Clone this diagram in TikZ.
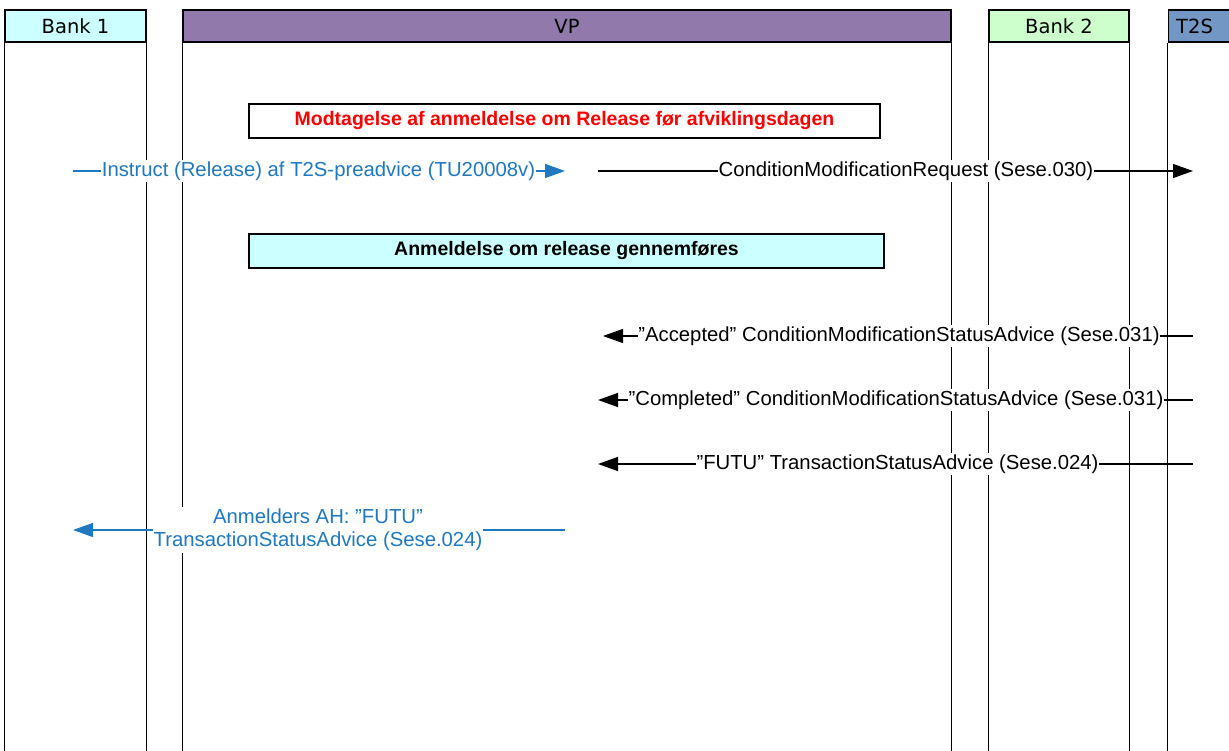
\documentclass[tikz,border=0pt]{standalone}
\usepackage{fontspec}
\setmainfont{Liberation Sans}
\newfontfamily\hdrfont{DejaVu Sans}
\usetikzlibrary{arrows.meta,positioning}
\definecolor{bankone}{RGB}{204,255,255}
\definecolor{banktwo}{RGB}{204,255,204}
\definecolor{vpfill}{RGB}{145,121,171}
\definecolor{tsfill}{RGB}{115,151,196}
\definecolor{msgblue}{RGB}{31,120,192}

\begin{document}
\begin{tikzpicture}[x=1pt,y=-1pt,line width=1.4pt,
	hdr/.style={draw,minimum height=32pt,inner sep=0pt,font=\hdrfont\fontsize{19.5}{22}\selectfont},
	msg/.style={fill=white,inner xsep=0pt,inner ysep=2pt,font=\fontsize{20.3}{23}\selectfont},
	note/.style={draw,minimum height=34pt,inner sep=0pt,font=\bfseries\fontsize{19.5}{22}\selectfont},
	tip/.style={-{Triangle[length=20pt,width=14pt]}}]
	\useasboundingbox (0,0) rectangle (1229,751);
	\clip (0,0) rectangle (1229,751);
	\coordinate (bottom) at (0,760);

	% participants
	\node[hdr,fill=bankone,minimum width=141pt] (bank1) at (75.5,26) {Bank 1};
	\node[hdr,fill=vpfill,minimum width=768pt] (vp) at (567,26) {VP};
	\node[hdr,fill=banktwo,minimum width=140pt] (bank2) at (1059,26) {Bank 2};
	\node[hdr,fill=tsfill,anchor=west,align=left,text width=60pt,inner xsep=8pt] (t2s) at (1167.5,26) {T2S};

	% lifelines
	\draw (bank1.south west) -- (bank1.south west |- bottom);
	\draw (bank1.south east) -- (bank1.south east |- bottom);
	\draw (vp.south west) -- (vp.south west |- bottom);
	\draw (vp.south east) -- (vp.south east |- bottom);
	\draw (bank2.south west) -- (bank2.south west |- bottom);
	\draw (bank2.south east) -- (bank2.south east |- bottom);
	\draw (t2s.south west) -- (t2s.south west |- bottom);

	% notes
	\node[note,fill=white,text=red,minimum width=631pt] (recv) at (564.5,121) {Modtagelse af anmeldelse om Release før afviklingsdagen};
	\node[note,fill=bankone,minimum width=635pt] (done) at (566.5,251) {Anmeldelse om release gennemføres};

	% instruct release
	\node[msg,text=msgblue] (instr) at (318.5,171) {Instruct (Release) af T2S-preadvice (TU20008v)};
	\coordinate (instrA) at (73,171);
	\coordinate (instrB) at (565,171);
	\draw[msgblue] (instrA) -- (instr.west);
	\draw[msgblue,tip] (instr.east) -- (instrB);

	% sese.030 to T2S
	\node[msg] (req) at (906,171) {ConditionModificationRequest (Sese.030)};
	\coordinate (reqA) at (598,171);
	\coordinate (reqB) at (1193,171);
	\draw (reqA) -- (req.west);
	\draw[tip] (req.east) -- (reqB);

	% status advices from T2S
	\node[msg] (acc) at (899,336) {”Accepted” ConditionModificationStatusAdvice (Sese.031)};
	\coordinate (accA) at (1193,336);
	\coordinate (accB) at (603,336);
	\draw (accA) -- (acc.east);
	\draw[tip] (acc.west) -- (accB);

	\node[msg] (compl) at (896,400) {”Completed” ConditionModificationStatusAdvice (Sese.031)};
	\coordinate (complA) at (1193,400);
	\coordinate (complB) at (598,400);
	\draw (complA) -- (compl.east);
	\draw[tip] (compl.west) -- (complB);

	\node[msg] (futu) at (897.5,464) {”FUTU” TransactionStatusAdvice (Sese.024)};
	\coordinate (futuA) at (1193,464);
	\coordinate (futuB) at (598,464);
	\draw (futuA) -- (futu.east);
	\draw[tip] (futu.west) -- (futuB);

	% forwarded to Bank 1
	\node[msg,text=msgblue,align=center] (fwd) at (318,530) {Anmelders AH: ”FUTU”\\TransactionStatusAdvice (Sese.024)};
	\coordinate (fwdA) at (565,530);
	\coordinate (fwdB) at (73,530);
	\draw[msgblue] (fwdA) -- (fwd.east);
	\draw[msgblue,tip] (fwd.west) -- (fwdB);
\end{tikzpicture}
\end{document}
